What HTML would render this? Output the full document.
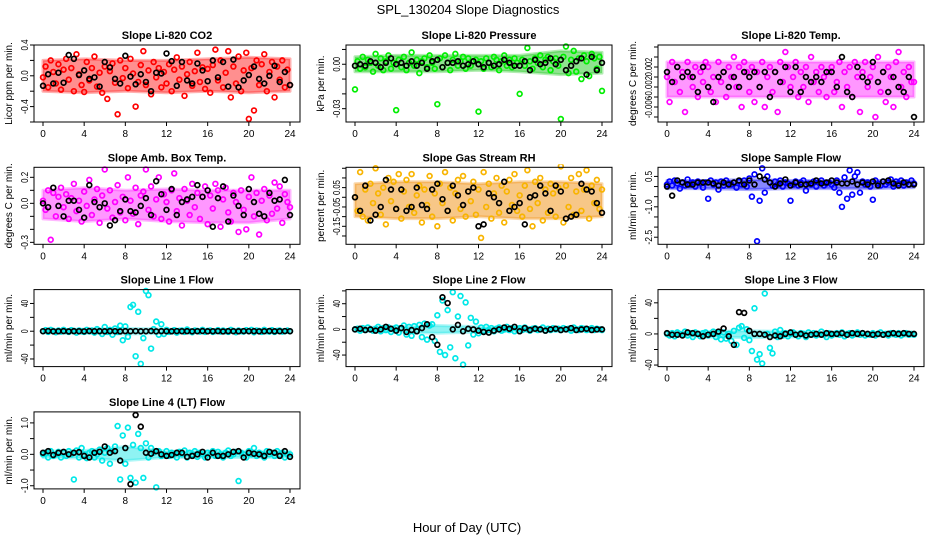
<!DOCTYPE html>
<html><head><meta charset="utf-8"><title>SPL_130204 Slope Diagnostics</title>
<style>
html,body{margin:0;padding:0;background:#fff;}
svg{display:block;font-family:"Liberation Sans",sans-serif;}
</style></head>
<body>
<svg id="chart" width="936" height="540" viewBox="0 0 936 540" xmlns="http://www.w3.org/2000/svg">
<rect x="0" y="0" width="936" height="540" fill="#fff"/>
<text x="468" y="14" text-anchor="middle" font-size="13">SPL_130204  Slope Diagnostics</text>
<text x="467" y="532" text-anchor="middle" font-size="13">Hour of Day (UTC)</text>
</svg>
<script>
const xTicks = [0,4,8,12,16,20,24];
const bandHours = [0,4,8,12,16,20,24];

const co2Color = [-0.02,0.12,-0.15,0.2,0.05,-0.1,0.15,-0.18,0.08,0.22,-0.05,0.1,-0.2,0.28,0.02,-0.12,
-0.21,0.18,-0.06,0.1,0.25,-0.14,0.04,-0.22,0.12,-0.3,0.06,0.16,-0.09,-0.5,0.2,-0.03,
0.1,-0.16,0.22,0.03,-0.4,-0.08,0.14,0.32,-0.12,0.07,-0.24,0.18,-0.02,0.1,-0.15,0.05,
-0.1,0.15,-0.2,0.08,0.24,-0.05,0.12,-0.26,0.02,0.18,-0.13,0.06,0.3,-0.08,0.11,-0.17,
0.09,-0.22,0.14,0.34,-0.06,0.2,-0.15,0.04,0.32,-0.28,0.12,-0.1,0.25,-0.2,0.07,0.3,
-0.56,0.1,-0.45,0.2,-0.12,0.15,0.28,-0.2,0.05,0.18,-0.28,0.12,-0.05,0.2,-0.15,0.08,-0.12];
const co2Black = [-0.13,0.02,-0.1,0.04,-0.09,0.27,0.22,0.01,0.07,-0.04,-0.02,-0.14,0.18,0.11,-0.04,-0.1,
0.26,-0.01,-0.11,0.02,-0.08,-0.2,0.04,0.03,0.29,0.19,-0.13,0.18,-0.06,-0.1,0.16,0.07,
-0.07,0.2,-0.02,0.18,-0.14,0.21,-0.15,-0.06,0.01,0.12,-0.04,-0.1,0.0,0.13,-0.08,0.05,-0.12];
const co2BandLo = [-0.2,-0.22,-0.2,-0.22,-0.2,-0.22,-0.2];
const co2BandHi = [0.2,0.22,0.2,0.2,0.22,0.24,0.22];

const presColor = [-0.017,0.002,-0.003,0.005,-0.002,0.003,0.001,-0.005,0.007,-0.001,0.004,-0.004,0.002,0.006,-0.003,0.001,
-0.031,0.003,-0.002,0.005,-0.004,0.001,0.008,-0.001,0.003,-0.006,0.002,0.004,-0.002,0.006,0.001,-0.003,
-0.027,0.004,-0.002,0.006,0.001,-0.004,0.003,0.007,-0.001,0.002,0.005,-0.003,0.004,-0.001,0.002,0.003,
-0.032,0.002,-0.003,0.004,0.001,-0.002,0.005,0.003,-0.004,0.002,0.006,-0.001,0.003,-0.002,0.004,0.001,
-0.02,0.003,-0.001,0.011,0.002,-0.003,0.004,0.001,0.006,-0.002,0.003,0.005,-0.004,0.002,0.004,-0.001,
-0.037,0.005,0.012,-0.006,0.003,0.009,-0.005,0.004,-0.01,0.006,0.002,-0.008,0.007,0.004,-0.003,0.005,-0.018];
const presBlack = [-0.001,0.0,-0.001,0.002,0.001,-0.002,0.001,0.004,0.0,0.001,-0.001,0.002,-0.001,0.001,-0.003,0.002,
0.003,-0.002,0.001,0.001,0.002,-0.001,0.0,0.002,0.0,-0.002,0.001,-0.001,0.0,0.003,0.001,-0.001,
-0.001,0.002,-0.004,0.003,0.0,0.001,0.004,0.0,0.003,-0.004,-0.001,0.002,0.004,-0.007,0.005,-0.004,0.001];
const presBandLo = [-0.005,-0.005,-0.005,-0.004,-0.005,-0.007,-0.006];
const presBandHi = [0.005,0.006,0.006,0.006,0.006,0.009,0.008];

const tempColor = [0.0,-0.005,0.003,-0.001,0.002,-0.003,0.001,-0.007,0.003,0.0,-0.002,0.002,-0.004,0.001,-0.001,0.003,
0.002,-0.003,0.0,-0.005,0.003,-0.001,0.001,-0.004,0.002,0.0,0.004,-0.002,0.002,-0.006,0.003,0.001,
-0.003,0.002,-0.005,0.001,-0.002,0.003,-0.006,0.0,0.002,-0.003,0.001,-0.007,0.003,-0.001,0.005,0.002,
-0.002,0.0,0.003,-0.004,0.001,-0.002,0.002,-0.005,0.004,-0.001,0.001,-0.003,0.002,0.0,-0.004,0.001,
0.002,-0.003,-0.001,0.003,-0.006,0.001,-0.002,0.002,-0.004,0.003,0.0,-0.007,0.001,0.003,-0.002,0.0,
0.002,-0.008,0.004,-0.003,0.001,-0.005,0.002,0.0,-0.006,0.003,0.005,-0.002,0.001,-0.004,0.002,-0.001,-0.001];
const tempBlack = [0.001,-0.001,0.002,0.0,0.001,0.0,-0.003,0.002,-0.002,-0.005,0.0,0.001,-0.002,0.0,-0.002,0.001,
0.0,0.001,-0.002,0.001,-0.004,0.001,-0.001,0.002,-0.003,0.002,-0.003,0.0,-0.001,0.0,-0.001,0.001,
0.001,-0.002,0.004,-0.003,-0.004,0.002,0.0,-0.001,0.003,-0.001,0.001,-0.003,0.0,-0.002,-0.003,0.0,-0.008];
const tempBandLo = [-0.004,-0.004,-0.004,-0.004,-0.004,-0.004,-0.004];
const tempBandHi = [0.003,0.003,0.003,0.003,0.003,0.003,0.003];

const ambColor = [0.02,-0.05,0.1,-0.28,0.08,-0.1,0.05,0.12,-0.03,0.07,-0.12,0.04,0.15,-0.06,0.02,-0.14,
0.09,-0.02,0.18,-0.09,0.03,0.11,-0.15,0.06,0.26,-0.04,0.1,-0.11,0.01,0.14,-0.07,0.05,
-0.13,0.2,0.02,-0.08,0.12,-0.16,0.06,0.09,0.26,-0.05,0.13,-0.1,0.03,0.2,-0.12,0.07,
0.01,-0.14,0.1,0.23,-0.06,0.04,-0.17,0.11,0.02,-0.09,0.15,-0.03,0.08,-0.12,0.05,0.13,
-0.16,0.06,-0.04,0.15,0.1,-0.18,0.03,0.12,-0.07,-0.14,0.08,0.01,-0.22,0.1,-0.05,-0.2,
0.05,0.2,-0.1,0.08,-0.24,0.02,0.11,-0.13,0.06,-0.08,0.16,-0.04,0.13,-0.15,0.07,0.01,-0.03];
const ambBlack = [0.0,-0.03,0.12,-0.02,-0.1,0.02,0.02,-0.05,-0.11,0.14,0.01,-0.03,0.0,-0.17,-0.13,-0.06,
0.03,-0.06,-0.07,-0.02,0.04,-0.09,0.17,0.07,-0.05,0.11,-0.09,0.01,0.03,0.05,0.14,0.05,
0.1,-0.18,0.04,0.13,-0.14,0.06,-0.02,-0.09,0.11,0.01,-0.08,-0.1,0.08,0.02,0.03,0.18,-0.09];
const ambBandLo = [-0.12,-0.14,-0.12,-0.14,-0.15,-0.15,-0.12];
const ambBandHi = [0.1,0.12,0.1,0.11,0.1,0.1,0.1];

const rhColor = [0.0,-0.07,0.13,-0.1,0.04,-0.12,0.07,-0.03,0.15,0.02,-0.09,0.05,-0.14,0.1,-0.02,0.08,
-0.06,0.12,-0.11,0.03,0.09,-0.05,0.12,-0.08,0.01,0.06,-0.13,0.04,-0.04,0.11,-0.1,0.02,
-0.15,0.07,-0.03,0.13,-0.07,0.05,-0.12,0.02,0.09,-0.06,0.11,-0.1,0.03,-0.02,0.08,-0.09,
0.04,-0.21,0.13,-0.05,0.07,-0.11,0.02,0.1,-0.08,0.06,-0.13,0.03,0.09,-0.04,0.12,-0.07,
0.01,-0.1,0.06,0.14,-0.06,-0.15,0.08,-0.03,0.1,-0.12,0.04,-0.08,0.07,0.02,-0.1,0.05,
0.16,-0.13,0.06,-0.05,0.1,-0.09,0.03,0.12,-0.07,0.04,0.14,-0.11,0.06,-0.03,0.09,-0.06,0.04];
const rhBlack = [0.0,-0.07,0.06,-0.12,-0.09,-0.05,0.09,0.04,-0.06,0.04,-0.07,-0.05,0.05,-0.04,-0.06,0.04,
0.07,-0.01,-0.07,0.06,0.01,-0.04,0.03,0.05,-0.15,-0.14,0.02,0.0,-0.03,0.08,-0.07,-0.05,
-0.03,-0.14,0.0,0.01,0.06,0.02,-0.07,0.06,0.03,-0.11,-0.1,-0.09,0.07,0.04,0.03,-0.03,-0.08];
const rhBandLo = [-0.1,-0.11,-0.11,-0.1,-0.11,-0.11,-0.1];
const rhBandHi = [0.07,0.08,0.08,0.07,0.08,0.08,0.07];

const flowColor = [0.1,0.25,0.05,0.3,0.15,-0.1,0.2,0.05,0.35,0.1,0.2,0.0,0.25,0.15,-0.05,0.2,
-0.6,0.3,0.1,0.2,-0.15,0.25,0.05,0.3,0.15,0.1,0.2,-0.05,0.25,0.1,0.3,0.0,
0.4,-0.5,0.6,-2.7,-0.7,0.9,-0.3,0.5,0.2,0.05,0.25,0.1,0.3,0.0,0.2,0.15,
-0.7,0.1,0.25,0.05,0.2,0.3,-0.2,0.15,0.1,0.25,0.0,0.2,0.3,0.05,0.15,0.2,
0.1,-0.05,0.3,-0.3,-1.0,0.45,-0.6,0.8,-0.4,0.5,0.7,-0.3,0.25,0.1,0.2,0.0,
-0.65,0.3,0.15,0.05,0.25,0.1,0.2,0.35,0.0,0.25,0.15,0.3,0.05,0.2,0.1,0.3,0.15];
const flowBlack = [0.0,-0.45,0.3,0.2,0.1,0.1,0.2,0.2,0.2,0.15,0.05,0.2,0.1,0.2,0.3,0.1,
0.3,0.1,0.5,0.35,0.2,0.0,0.15,0.35,0.05,0.2,0.1,0.1,0.15,0.3,0.15,0.2,
0.3,0.2,0.15,0.15,0.25,0.1,0.2,0.1,0.25,0.05,0.25,0.3,0.15,0.05,0.2,0.1,0.1];
const flowBandLo = [-0.1,-0.1,-0.15,-0.1,-0.1,-0.1,-0.05];
const flowBandHi = [0.3,0.3,0.35,0.3,0.3,0.3,0.3];

const line1Color = [0.0,1.5,-1.0,2.0,0.5,-1.5,1.0,-0.5,2.0,0.0,-1.0,1.5,0.5,-2.0,1.0,0.0,
-1.0,2.0,0.0,1.0,-2.0,3.0,0.5,-4.0,6.0,-1.0,2.0,-5.0,4.0,-1.0,8.0,-13.0,
7.0,-8.0,35.0,38.0,-36.0,28.0,-47.0,-10.0,58.0,52.0,-25.0,3.0,14.0,-5.0,10.0,-4.0,
2.0,-1.0,0.0,1.5,-2.0,0.5,1.0,-1.0,2.5,0.0,-1.5,1.0,0.5,-0.5,2.0,-1.0,
0.5,1.0,-1.0,0.0,1.5,-0.5,1.0,0.0,-1.0,2.0,0.5,-1.5,1.0,0.0,-0.5,1.5,
0.0,2.0,-1.5,1.0,0.5,-1.0,2.0,0.0,-0.5,1.5,-1.0,0.5,1.0,-0.5,0.0,1.0,0.0];
const line1Black = [0.0,0.3,-0.2,0.0,0.2,-0.3,0.1,0.0,-0.2,0.3,0.0,0.1,-0.1,0.2,0.0,-0.3,
0.1,0.0,0.2,-0.1,0.0,0.3,-0.2,0.1,0.0,-0.1,0.2,0.0,0.1,-0.2,0.0,0.3,
-0.1,0.0,0.2,-0.3,0.1,0.0,-0.1,0.2,0.0,0.1,-0.2,0.0,0.3,-0.1,0.0,0.2,0.0];
const line1BandLo = [-2,-3,-4,-3,-2,-2,-2];
const line1BandHi = [2,3,4,3,2,2,2];

const line2Color = [0.0,1.0,-2.0,2.0,-1.0,3.0,0.0,-2.0,1.0,4.0,-3.0,2.0,-1.0,3.0,-4.0,1.0,
3.0,-5.0,2.0,6.0,-8.0,4.0,-10.0,5.0,-3.0,7.0,-12.0,9.0,-16.0,6.0,8.0,-18.0,
22.0,-35.0,45.0,-40.0,30.0,-28.0,58.0,-45.0,20.0,52.0,-55.0,42.0,-25.0,18.0,-8.0,12.0,
-6.0,3.0,-2.0,4.0,-1.0,2.0,-3.0,1.0,3.0,-2.0,0.0,4.0,-1.0,2.0,-3.0,1.0,
2.0,-1.0,3.0,0.0,-2.0,1.0,2.0,-1.0,0.0,3.0,-2.0,1.0,-1.0,2.0,0.0,1.0,
-1.0,2.0,0.0,1.0,-2.0,3.0,0.0,-1.0,2.0,1.0,-1.0,0.0,2.0,-1.0,1.0,0.0,-1.0];
const line2Black = [0,1,-1,0,-2,0,4,1,-2,2,-4,-1,-3,2,8,-12,
-24,50,41,0,7,-3,1,0,-2,-4,-5,-2,0,3,1,4,
-3,2,-1,1,0,-2,0,1,-1,0,2,-1,0,1,-1,0,0];
const line2BandLo = [-3,-4,-6,-4,-3,-3,-3];
const line2BandHi = [3,4,6,4,3,3,3];

const line3Color = [0.0,-2.0,1.0,-3.0,2.0,0.0,-1.0,3.0,-2.0,1.0,-4.0,2.0,0.0,-3.0,1.0,2.0,
-2.0,0.0,3.0,-4.0,1.0,-7.0,2.0,-6.0,0.0,-9.0,4.0,-14.0,8.0,10.0,-5.0,6.0,
-8.0,-22.0,33.0,-33.0,-26.0,-38.0,52.0,0.0,-18.0,-25.0,3.0,-4.0,5.0,-2.0,1.0,-3.0,
0.0,2.0,-1.0,-3.0,1.0,0.0,-4.0,2.0,-1.0,1.0,-2.0,0.0,3.0,-1.0,-4.0,1.0,
-2.0,0.0,1.0,-1.0,2.0,-3.0,0.0,1.0,-2.0,0.0,2.0,-1.0,1.0,-2.0,0.0,-1.0,
1.0,-2.0,0.0,2.0,-1.0,0.0,-2.0,1.0,0.0,-1.0,1.0,-2.0,0.0,1.0,-1.0,0.0,-1.0];
const line3Black = [1,-1,-1,-2,2,1,0,-3,-1,0,3,7,-3,-14,28,27,
4,0,0,-1,-4,-2,-3,0,2,-1,0,-2,-1,0,-1,1,
0,0,1,-1,1,0,1,0,-1,0,-1,0,1,0,1,0,0];
const line3BandLo = [-3,-4,-5,-4,-3,-3,-3];
const line3BandHi = [2,3,4,3,2,2,2];

const line4Color = [0.0,0.05,-0.1,0.1,-0.05,0.0,0.08,-0.1,0.05,-0.05,0.1,0.0,-0.8,0.12,-0.1,0.2,
0.0,-0.12,0.05,0.1,-0.1,0.0,0.15,-0.2,0.05,0.2,-0.3,0.1,0.25,0.9,-0.8,0.6,
-0.3,0.85,-0.75,0.3,-0.9,0.65,0.2,-0.75,0.35,-0.1,0.2,0.05,-1.05,0.1,-0.05,0.0,
0.1,-0.05,0.05,0.0,-0.1,0.08,0.0,0.12,-0.1,0.05,0.0,0.1,-0.08,0.05,0.0,-0.1,
0.05,0.0,0.1,-0.05,0.08,0.0,-0.1,0.05,0.12,-0.05,0.0,0.08,-0.85,0.05,0.0,-0.1,
0.1,0.0,0.2,-0.05,0.05,0.0,-0.1,0.1,0.0,0.05,-0.05,0.1,0.0,0.05,-0.1,0.0,0.0];
const line4Black = [0.05,0.1,-0.02,0.05,0.08,0.0,0.05,0.07,-0.05,-0.1,0.05,0.08,0.25,0.05,0.1,-0.2,
0.2,-0.95,1.25,0.88,0.05,0.02,0.1,0.0,-0.05,-0.02,0.05,0.05,-0.08,-0.05,0.0,0.08,
-0.1,0.05,-0.05,-0.05,0.0,0.08,0.1,-0.1,0.05,0.02,0.0,-0.05,0.08,0.05,-0.05,0.1,-0.08];
const line4BandLo = [-0.1,-0.12,-0.2,-0.1,-0.1,-0.1,-0.1];
const line4BandHi = [0.1,0.12,0.25,0.1,0.1,0.1,0.1];

const panels = [
 {name:'co2',title:'Slope Li-820 CO2',ylab:'Licor ppm per min.',ymin:-0.6,ymax:0.4,ticks:[-0.6,-0.4,-0.2,0,0.2,0.4],labels:[[-0.4,'-0.4'],[0,'0.0'],[0.4,'0.4']],color:'#ff0000',band:'#ff2020',c:co2Color,b:co2Black,lo:co2BandLo,hi:co2BandHi,col:0,row:0},
 {name:'pressure',title:'Slope Li-820 Pressure',ylab:'kPa per min.',ymin:-0.039,ymax:0.013,ticks:[-0.03,-0.02,-0.01,0,0.01],labels:[[-0.03,'-0.03'],[0,'0.00']],color:'#00ee00',band:'#22c822',c:presColor,b:presBlack,lo:presBandLo,hi:presBandHi,col:1,row:0},
 {name:'temp',title:'Slope Li-820 Temp.',ylab:'degrees C per min.',ymin:-0.009,ymax:0.0064,ticks:[-0.008,-0.006,-0.004,-0.002,0,0.002,0.004,0.006],labels:[[-0.006,'-0.006'],[-0.002,'-0.002'],[0.002,'0.002']],color:'#ff00ff',band:'#ff30ff',c:tempColor,b:tempBlack,lo:tempBandLo,hi:tempBandHi,col:2,row:0},
 {name:'amb-box-temp',title:'Slope Amb. Box Temp.',ylab:'degrees C per min.',ymin:-0.315,ymax:0.277,ticks:[-0.3,-0.2,-0.1,0,0.1,0.2],labels:[[-0.3,'-0.3'],[0,'0.0'],[0.2,'0.2']],color:'#ff00ff',band:'#ff30ff',c:ambColor,b:ambBlack,lo:ambBandLo,hi:ambBandHi,col:0,row:1},
 {name:'gas-stream-rh',title:'Slope Gas Stream RH',ylab:'percent per min.',ymin:-0.243,ymax:0.155,ticks:[-0.2,-0.15,-0.1,-0.05,0,0.05,0.1,0.15],labels:[[-0.15,'-0.15'],[-0.05,'-0.05'],[0.05,'0.05']],color:'#f8b400',band:'#f09010',c:rhColor,b:rhBlack,lo:rhBandLo,hi:rhBandHi,col:1,row:1},
 {name:'sample-flow',title:'Slope Sample Flow',ylab:'ml/min per min.',ymin:-2.85,ymax:0.95,ticks:[-2.5,-2,-1.5,-1,-0.5,0,0.5],labels:[[-2.5,'-2.5'],[-1,'-1.0'],[0.5,'0.5']],color:'#0000ff',band:'#1010ff',c:flowColor,b:flowBlack,lo:flowBandLo,hi:flowBandHi,col:2,row:1},
 {name:'line1-flow',title:'Slope Line 1 Flow',ylab:'ml/min per min.',ymin:-51,ymax:60,ticks:[-40,-20,0,20,40],labels:[[-40,'-40'],[0,'0'],[40,'40']],color:'#00e8e8',band:'#20e8e8',c:line1Color,b:line1Black,lo:line1BandLo,hi:line1BandHi,col:0,row:2},
 {name:'line2-flow',title:'Slope Line 2 Flow',ylab:'ml/min per min.',ymin:-58,ymax:62,ticks:[-40,-20,0,20,40,60],labels:[[-40,'-40'],[0,'0'],[40,'40']],color:'#00e8e8',band:'#20e8e8',c:line2Color,b:line2Black,lo:line2BandLo,hi:line2BandHi,col:1,row:2},
 {name:'line3-flow',title:'Slope Line 3 Flow',ylab:'ml/min per min.',ymin:-42,ymax:57,ticks:[-40,-20,0,20,40],labels:[[-40,'-40'],[0,'0'],[40,'40']],color:'#00e8e8',band:'#20e8e8',c:line3Color,b:line3Black,lo:line3BandLo,hi:line3BandHi,col:2,row:2},
 {name:'line4-flow',title:'Slope Line 4 (LT) Flow',ylab:'ml/min per min.',ymin:-1.1,ymax:1.35,ticks:[-1,-0.5,0,0.5,1],labels:[[-1,'-1.0'],[0,'0.0'],[1,'1.0']],color:'#00e8e8',band:'#20e8e8',c:line4Color,b:line4Black,lo:line4BandLo,hi:line4BandHi,col:0,row:3}
];

const NS='http://www.w3.org/2000/svg';
const svg=document.getElementById('chart');
function mk(tag,attrs,parent){const e=document.createElementNS(NS,tag);for(const k in attrs)e.setAttribute(k,attrs[k]);parent.appendChild(e);return e;}

panels.forEach(p=>{
  const L=34+312*p.col, T=45+122.3*p.row, W=266, H=77;
  const xs=h=>L+9+h*(247/24);
  const ys=v=>T+H*(p.ymax-v)/(p.ymax-p.ymin);
  const g=mk('g',{},svg);
  
  
  const t=mk('text',{x:L+W/2,y:T-6,'text-anchor':'middle','font-size':'11','font-weight':'bold'},g);
  t.textContent=p.title;
  
  
  const yt=mk('text',{x:0,y:0,'text-anchor':'middle','font-size':'10',transform:`translate(${L-22},${T+H/2}) rotate(-90)`},g);
  yt.textContent=p.ylab;
  
  
  xTicks.forEach(h=>{
    const ln=mk('line',{x1:xs(h),x2:xs(h),y1:T+H,y2:T+H+4,stroke:'#000','stroke-width':1},g);
    
    
    const tl=mk('text',{x:xs(h),y:T+H+15,'text-anchor':'middle','font-size':'10'},g);
    tl.textContent=String(h);
    
    
  });
  p.ticks.forEach(v=>{
    const ln=mk('line',{x1:L-4,x2:L,y1:ys(v),y2:ys(v),stroke:'#000','stroke-width':1},g);
    
    
  });
  p.labels.forEach(([v,s])=>{
    const tl=mk('text',{x:0,y:0,'text-anchor':'middle','font-size':'10.5',textLength:(s.length*3.7).toFixed(1),lengthAdjust:'spacingAndGlyphs',transform:`translate(${L-6},${ys(v)}) rotate(-90)`},g);
    tl.textContent=s;
    
    
  });
  const clip='clip-'+p.name;
  const cp=mk('clipPath',{id:clip},g);
  mk('rect',{x:L,y:T-3,width:W,height:H+6},cp);
  const pts=mk('g',{'clip-path':`url(#${clip})`},g);
  
  
  let d='';
  bandHours.forEach((h,i)=>{d+=(i?'L':'M')+xs(h).toFixed(1)+' '+ys(p.hi[i]).toFixed(1);});
  for(let i=bandHours.length-1;i>=0;i--){d+='L'+xs(bandHours[i]).toFixed(1)+' '+ys(p.lo[i]).toFixed(1);}
  d+='Z';
  const band=mk('path',{d:d,fill:p.band,'fill-opacity':0.5,stroke:p.band,'stroke-width':3,'stroke-opacity':0.35,'stroke-linejoin':'round'},pts);
  
  
  const nc=p.c.length;
  p.c.forEach((v,i)=>{
    const c=mk('circle',{cx:xs(i*24/(nc-1)),cy:ys(v),r:2.4,fill:'none',stroke:p.color,'stroke-width':1.7},pts);
    
    
  });
  const nb=p.b.length;
  p.b.forEach((v,i)=>{
    const c=mk('circle',{cx:xs(i*24/(nb-1)),cy:ys(v),r:2.4,fill:'none',stroke:'#000','stroke-width':1.7},pts);
    
    
  });
  const box=mk('rect',{x:L,y:T,width:W,height:H,fill:'none',stroke:'#000','stroke-width':1},g);
  
  
});
</script>
</body></html>
